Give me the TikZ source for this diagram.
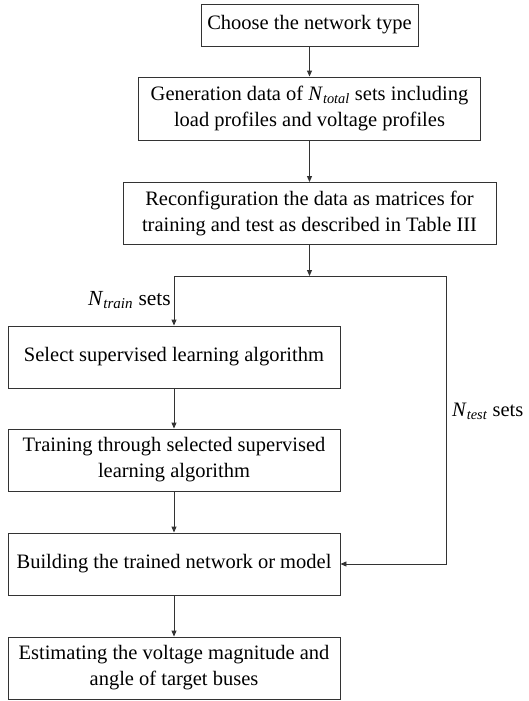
\documentclass[tikz,border=0pt]{standalone}
\usepackage{fontspec}
\setmainfont{Liberation Serif}
\usetikzlibrary{arrows.meta}
\newcommand{\Nsub}[1]{\textit{N}\textsubscript{\textit{#1}}}
\begin{document}
\begin{tikzpicture}[x=1pt,y=-1pt,
  box/.style={draw=black!80, line width=0.9pt, align=center, inner sep=0pt,
    font=\fontsize{20.5}{26}\selectfont},
  conn/.style={draw=black!80, line width=0.9pt},
  arr/.style={conn, -{Triangle[length=6pt,width=5pt]}},
  lbl/.style={inner sep=0pt, font=\fontsize{21.5}{26}\selectfont}]
\useasboundingbox (0,0) rectangle (529,701);
\node[box, minimum width=217pt, minimum height=42pt] (b1) at (309.5,25) {Choose the network type};
\node[box, minimum width=342pt, minimum height=63pt] (b2) at (309.5,108.5) {Generation data of \Nsub{total} sets including\\load profiles and voltage profiles};
\node[box, minimum width=373pt, minimum height=62pt] (b3) at (309.5,213.5) {Reconfiguration the data as matrices for\\training and test as described in Table III};
\node[box, minimum width=332pt, minimum height=62pt] (b4) at (174,357) {Select supervised learning algorithm};
\node[box, minimum width=332pt, minimum height=62pt] (b5) at (174,460) {Training through selected supervised\\learning algorithm};
\node[box, minimum width=332pt, minimum height=62pt] (b6) at (174,564) {Building the trained network or model};
\node[box, minimum width=332pt, minimum height=62pt] (b7) at (174,668) {Estimating the voltage magnitude and\\angle of target buses};
\coordinate (br) at (309.5,276);
\coordinate (bl) at (174,276);
\coordinate (brr) at (446,276);
\coordinate (bre) at (446,564);
\node[lbl, anchor=east] (ltrain) at (171,300) {\Nsub{train} sets};
\node[lbl, anchor=west, font=\fontsize{20.5}{26}\selectfont] (ltest) at (452,411) {\Nsub{test} sets};
\draw[arr] (b1.south) -- (b2.north);
\draw[arr] (b2.south) -- (b3.north);
\draw[arr] (b3.south) -- (br);
\draw[arr] (br) -- (bl) -- (b4.north);
\draw[arr] (br) -- (brr) -- (bre) -- (b6.east);
\draw[arr] (b4.south) -- (b5.north);
\draw[arr] (b5.south) -- (b6.north);
\draw[arr] (b6.south) -- (b7.north);
\end{tikzpicture}
\end{document}
